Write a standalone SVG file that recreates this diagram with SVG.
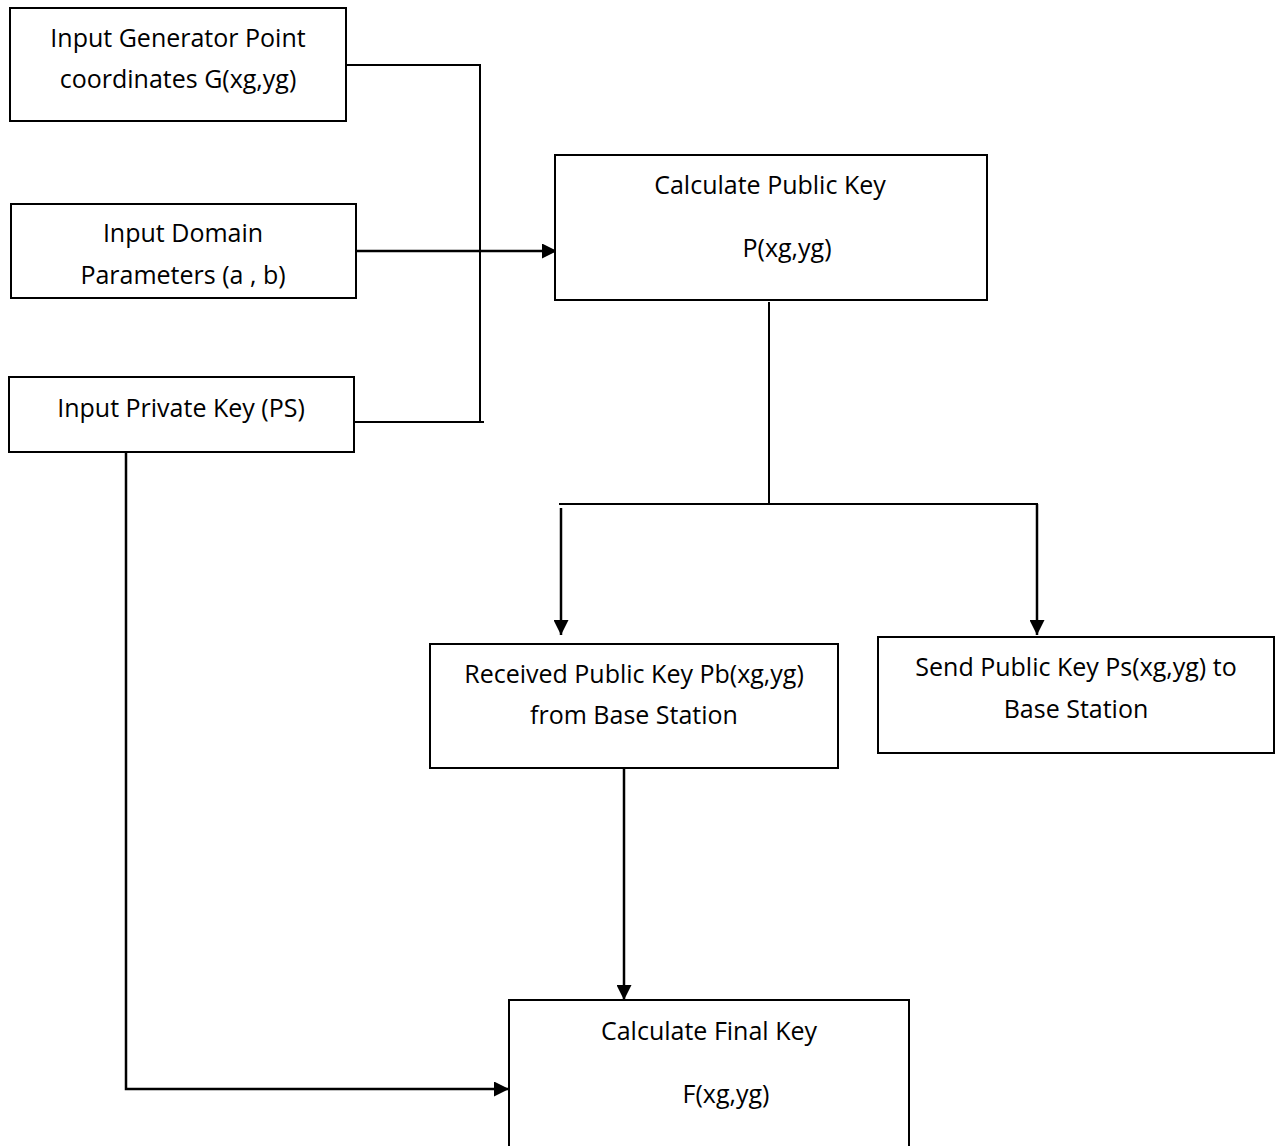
<svg xmlns="http://www.w3.org/2000/svg" width="1275" height="1146" viewBox="0 0 1275 1146">
<style>
.box{fill:#fff;stroke:#000;stroke-width:2}
.t{font-family:"Open Sans","Liberation Sans",sans-serif;font-size:25px;fill:#000;text-anchor:middle}
.c{fill:none;stroke:#000;stroke-width:2}
.a{fill:none;stroke:#000;stroke-width:2.5}
</style>
<defs>
<marker id="ah" viewBox="0 0 10 10" refX="10" refY="5" markerWidth="6" markerHeight="6" markerUnits="strokeWidth" orient="auto">
<path d="M0,0 L10,5 L0,10 Z" fill="#000"/>
</marker>
</defs>
<rect width="1275" height="1146" fill="#fff"/>
<g id="connectors">
<path class="c" d="M346,65 H480 V422 M354,422 H484"/>
<path class="a" d="M356,251 H557" marker-end="url(#ah)"/>
<path class="c" d="M769,302 V504 M559,504 H1038"/>
<path class="a" d="M561,508 V635" marker-end="url(#ah)"/>
<path class="a" d="M1037,504 V635" marker-end="url(#ah)"/>
<path class="a" d="M624,765 V1000" marker-end="url(#ah)"/>
<path class="a" d="M126,452 V1089 H509" marker-end="url(#ah)"/>
</g>
<g id="n1"><rect class="box" x="10" y="8" width="336" height="113"/>
<text class="t" x="178" y="47">Input Generator Point</text><text class="t" x="178" y="88">coordinates G(xg,yg)</text></g>
<g id="n2"><rect class="box" x="11" y="204" width="345" height="94"/>
<text class="t" x="183" y="242">Input Domain</text><text class="t" x="183" y="284">Parameters (a , b)</text></g>
<g id="n3"><rect class="box" x="9" y="377" width="345" height="75"/>
<text class="t" x="181" y="417">Input Private Key (PS)</text></g>
<g id="n4"><rect class="box" x="555" y="155" width="432" height="145"/>
<text class="t" x="770" y="194">Calculate Public Key</text><text class="t" x="787" y="257">P(xg,yg)</text></g>
<g id="n5"><rect class="box" x="430" y="644" width="408" height="124"/>
<text class="t" x="634" y="683">Received Public Key Pb(xg,yg)</text><text class="t" x="634" y="724">from Base Station</text></g>
<g id="n6"><rect class="box" x="878" y="637" width="396" height="116"/>
<text class="t" x="1076" y="676">Send Public Key Ps(xg,yg) to</text><text class="t" x="1076" y="718">Base Station</text></g>
<g id="n7"><rect class="box" x="509" y="1000" width="400" height="150"/>
<text class="t" x="709" y="1040">Calculate Final Key</text><text class="t" x="726" y="1103">F(xg,yg)</text></g>
</svg>
